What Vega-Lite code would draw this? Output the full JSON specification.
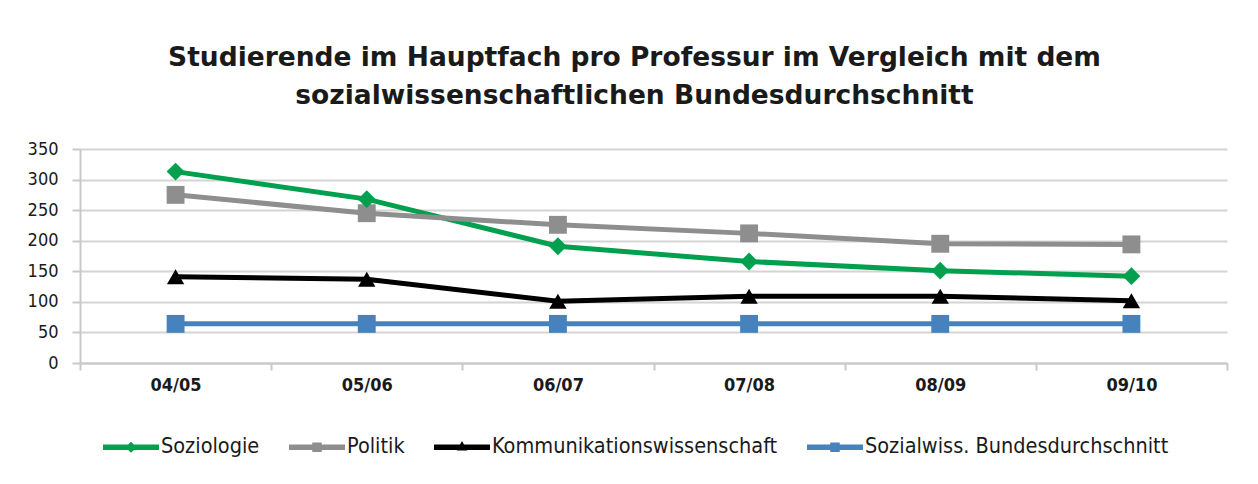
{
  "$schema": "https://vega.github.io/schema/vega-lite/v6.json",
  "width": 1147,
  "height": 214,
  "autosize": {"type": "none"},
  "padding": {"left": 80, "top": 149, "right": 31, "bottom": 121},
  "background": "white",
  "title": {
    "text": ["Studierende im Hauptfach pro Professur im Vergleich mit dem", "sozialwissenschaftlichen Bundesdurchschnitt"],
    "anchor": "middle",
    "dx": -19,
    "offset": 31,
    "font": "DejaVu Sans",
    "fontSize": 26.5,
    "fontWeight": "bold",
    "color": "#1a1a1a",
    "lineHeight": 38
  },
  "config": {
    "view": {"stroke": null},
    "font": "DejaVu Sans Condensed"
  },
  "data": {
    "values": [
      {"year": "04/05", "series": "Soziologie", "value": 313},
      {"year": "05/06", "series": "Soziologie", "value": 268},
      {"year": "06/07", "series": "Soziologie", "value": 191},
      {"year": "07/08", "series": "Soziologie", "value": 166},
      {"year": "08/09", "series": "Soziologie", "value": 151},
      {"year": "09/10", "series": "Soziologie", "value": 142},
      {"year": "04/05", "series": "Politik", "value": 275},
      {"year": "05/06", "series": "Politik", "value": 245},
      {"year": "06/07", "series": "Politik", "value": 226},
      {"year": "07/08", "series": "Politik", "value": 212},
      {"year": "08/09", "series": "Politik", "value": 195},
      {"year": "09/10", "series": "Politik", "value": 194},
      {"year": "04/05", "series": "Kommunikationswissenschaft", "value": 141},
      {"year": "05/06", "series": "Kommunikationswissenschaft", "value": 137},
      {"year": "06/07", "series": "Kommunikationswissenschaft", "value": 101},
      {"year": "07/08", "series": "Kommunikationswissenschaft", "value": 109},
      {"year": "08/09", "series": "Kommunikationswissenschaft", "value": 109},
      {"year": "09/10", "series": "Kommunikationswissenschaft", "value": 102},
      {"year": "04/05", "series": "Sozialwiss. Bundesdurchschnitt", "value": 64},
      {"year": "05/06", "series": "Sozialwiss. Bundesdurchschnitt", "value": 64},
      {"year": "06/07", "series": "Sozialwiss. Bundesdurchschnitt", "value": 64},
      {"year": "07/08", "series": "Sozialwiss. Bundesdurchschnitt", "value": 64},
      {"year": "08/09", "series": "Sozialwiss. Bundesdurchschnitt", "value": 64},
      {"year": "09/10", "series": "Sozialwiss. Bundesdurchschnitt", "value": 64}
    ]
  },
  "encoding": {
    "x": {
      "field": "year",
      "type": "nominal",
      "bandPosition": 0.5,
      "scale": {"type": "band", "paddingInner": 0, "paddingOuter": 0},
      "axis": {
        "title": null,
        "labelAngle": 0,
        "labelFontSize": 18,
        "labelFontWeight": "bold",
        "labelColor": "#1a1a1a",
        "labelPadding": 6,
        "tickBand": "extent",
        "tickSize": 7,
        "tickWidth": 2,
        "tickColor": "#c8c8c8",
        "domainColor": "#c8c8c8",
        "domainWidth": 2,
        "grid": false
      }
    },
    "y": {
      "field": "value",
      "type": "quantitative",
      "scale": {"domain": [0, 350], "nice": false},
      "axis": {
        "title": null,
        "values": [0, 50, 100, 150, 200, 250, 300, 350],
        "labelFontSize": 18,
        "labelColor": "#1a1a1a",
        "labelPadding": 14,
        "tickSize": 8,
        "tickWidth": 2,
        "tickColor": "#c8c8c8",
        "domainColor": "#c8c8c8",
        "domainWidth": 2,
        "gridColor": "#d4d4d4",
        "gridWidth": 2
      }
    }
  },
  "layer": [
    {
      "mark": {"type": "line", "strokeWidth": 5},
      "encoding": {
        "color": {
          "field": "series",
          "type": "nominal",
          "scale": {
            "domain": ["Soziologie", "Politik", "Kommunikationswissenschaft", "Sozialwiss. Bundesdurchschnitt"],
            "range": ["#00A04F", "#8E8E8E", "#000000", "#4682BE"]
          },
          "legend": {
            "title": null,
            "orient": "none",
            "legendX": 23,
            "legendY": 270,
            "direction": "horizontal",
            "columns": 4,
            "symbolSize": 3136,
            "symbolStrokeWidth": 0,
            "labelFontSize": 21.5,
            "labelColor": "#1a1a1a",
            "labelOffset": 2,
            "labelLimit": 0,
            "columnPadding": 29,
            "encode": {
              "symbols": {
                "update": {
                  "shape": {"signal": "datum.value === 'Soziologie' ? 'M-1,-0.1H1V0.1H-1Z M0,-0.2L0.2,0L0,0.2L-0.2,0Z' : datum.value === 'Kommunikationswissenschaft' ? 'M-1,-0.1H1V0.1H-1Z M0,-0.22L0.19,0.12L-0.19,0.12Z' : 'M-1,-0.1H1V0.1H-1Z M-0.17,-0.17H0.17V0.17H-0.17Z'"},
                  "fill": {"signal": "scale('color', datum.value)"},
                  "fillOpacity": {"value": 1},
                  "strokeWidth": {"value": 0}
                }
              }
            }
          }
        }
      }
    },
    {
      "transform": [{"filter": "datum.series === 'Politik'"}],
      "mark": {"type": "point", "filled": true, "opacity": 1, "size": 320, "shape": "square", "color": "#8E8E8E"}
    },
    {
      "transform": [{"filter": "datum.series === 'Soziologie'"}],
      "mark": {"type": "point", "filled": true, "opacity": 1, "size": 320, "shape": "diamond", "color": "#00A04F"}
    },
    {
      "transform": [{"filter": "datum.series === 'Kommunikationswissenschaft'"}],
      "mark": {"type": "point", "filled": true, "opacity": 1, "size": 300, "shape": "triangle-up", "color": "#000000"}
    },
    {
      "transform": [{"filter": "datum.series === 'Sozialwiss. Bundesdurchschnitt'"}],
      "mark": {"type": "point", "filled": true, "opacity": 1, "size": 320, "shape": "square", "color": "#4682BE"}
    }
  ]
}
